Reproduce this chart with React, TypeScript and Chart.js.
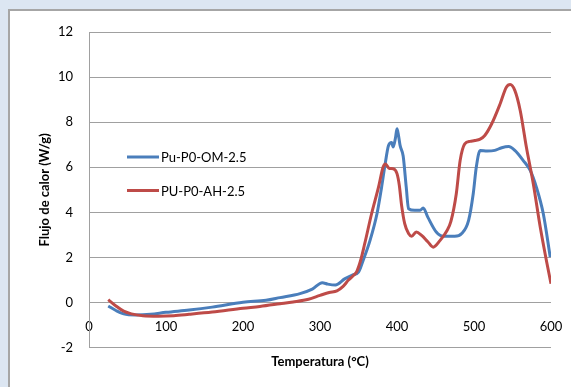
import React, { useEffect, useRef } from "react";
import { Chart, registerables } from "chart.js";

Chart.register(...registerables);

const omTemps = [25, 35, 45, 60, 80, 100, 130, 160, 200, 230, 248, 274, 290, 303, 310, 320, 332, 342, 350, 356, 365, 374, 380, 384, 389, 393, 395, 398, 400, 402, 404, 408, 412, 415, 423, 430, 434, 440, 451, 460, 475, 484, 493, 499, 503, 508, 517, 527, 536, 545, 553, 564, 573, 581, 590, 599];
const omValues = [-0.15, -0.35, -0.5, -0.55, -0.52, -0.43, -0.33, -0.2, 0.02, 0.1, 0.22, 0.4, 0.6, 0.88, 0.82, 0.78, 1.05, 1.22, 1.35, 1.87, 2.76, 3.94, 5.12, 6.01, 6.97, 7.1, 6.9, 7.3, 7.71, 7.4, 6.97, 6.5, 5.12, 4.16, 4.09, 4.09, 4.2, 3.79, 3.13, 2.94, 2.94, 3.06, 3.65, 4.83, 6.01, 6.75, 6.72, 6.75, 6.87, 6.92, 6.75, 6.3, 5.86, 5.12, 3.94, 2.02];

const ahTemps = [25, 35, 45, 55, 70, 90, 110, 130, 160, 200, 222, 248, 265, 285, 300, 312, 322, 330, 337, 344, 348, 353, 358, 367, 376, 382, 385, 390, 395, 400, 403, 406, 410, 415, 419, 425, 432, 440, 447, 456, 465, 470, 477, 482, 488, 495, 501, 508, 514, 523, 534, 542, 547, 553, 560, 568, 577, 586, 594, 600];
const ahValues = [0.13, -0.15, -0.38, -0.5, -0.58, -0.6, -0.58, -0.52, -0.42, -0.25, -0.17, -0.05, 0.03, 0.15, 0.32, 0.45, 0.52, 0.72, 1.0, 1.22, 1.4, 1.9, 2.6, 3.94, 5.12, 6.01, 6.15, 5.95, 5.94, 5.72, 5.2, 4.3, 3.5, 3.06, 2.94, 3.13, 2.98, 2.7, 2.46, 2.76, 3.2, 3.6, 4.83, 6.3, 7.04, 7.15, 7.19, 7.25, 7.41, 7.93, 8.82, 9.55, 9.67, 9.41, 8.52, 6.9, 5.27, 3.35, 1.87, 0.84];

const seriesLabels = ["Pu-P0-OM-2.5", "PU-P0-AH-2.5"];
const seriesColors = ["#4a7ebb", "#be4b48"];
const xTitle = "Temperatura (°C)";
const yTitle = "Flujo de calor (W/g)";

const FONT = "Lato, 'Open Sans', sans-serif";

const legendPlugin = {
  id: "insideLegend",
  afterDatasetsDraw(chart: any) {
    const { ctx, chartArea } = chart;
    ctx.save();
    ctx.font = `13px ${FONT}`;
    ctx.textBaseline = "middle";
    ctx.textAlign = "left";
    const rows = [125, 158.5];
    seriesLabels.forEach((label, i) => {
      const y = chartArea.top + rows[i];
      const x0 = chartArea.left + 38;
      ctx.strokeStyle = seriesColors[i];
      ctx.lineWidth = 3;
      ctx.beginPath();
      ctx.moveTo(x0, y);
      ctx.lineTo(x0 + 32, y);
      ctx.stroke();
      ctx.fillStyle = "#000";
      ctx.fillText(label, x0 + 34, y + 1);
    });
    ctx.restore();
  },
};

export default function App() {
  const canvasRef = useRef<HTMLCanvasElement>(null);

  useEffect(() => {
    document.body.style.background = "#dce6f2";
    document.body.style.overflow = "hidden";
    const canvas = canvasRef.current;
    if (!canvas) return;
    const toPoints = (xs: number[], ys: number[]) => xs.map((x, i) => ({ x, y: ys[i] }));
    const chart = new Chart(canvas, {
      type: "line",
      data: {
        datasets: [
          {
            label: seriesLabels[0],
            data: toPoints(omTemps, omValues),
            borderColor: seriesColors[0],
            backgroundColor: seriesColors[0],
            borderWidth: 3,
            pointRadius: 0,
            cubicInterpolationMode: "monotone",
            order: 1,
          },
          {
            label: seriesLabels[1],
            data: toPoints(ahTemps, ahValues),
            borderColor: seriesColors[1],
            backgroundColor: seriesColors[1],
            borderWidth: 3,
            pointRadius: 0,
            cubicInterpolationMode: "monotone",
            order: 0,
          },
        ],
      },
      options: {
        animation: false,
        responsive: false,
        maintainAspectRatio: false,
        layout: { padding: { top: 21, right: 20, left: 0, bottom: 0 } },
        plugins: { legend: { display: false }, tooltip: { enabled: false } },
        scales: {
          x: {
            type: "linear",
            position: { y: 0 } as any,
            min: 0,
            max: 600,
            grid: { display: false, drawTicks: false },
            border: { display: false },
            ticks: {
              stepSize: 100,
              padding: 16,
              color: "#000",
              font: { family: FONT, size: 13 },
              maxRotation: 0,
            },
            afterFit(scale: any) {
              scale.paddingLeft = 0;
              scale.paddingRight = 0;
            },
          },
          x2: {
            type: "linear",
            position: "bottom",
            min: 0,
            max: 600,
            grid: { display: false, drawTicks: false },
            border: { display: false },
            ticks: { display: false },
            title: {
              display: true,
              text: xTitle,
              color: "#000",
              font: { family: FONT, size: 13, weight: "bold" },
              padding: { top: 0, bottom: 17 },
            },
            afterFit(scale: any) {
              scale.height = 39.3;
              scale.paddingLeft = 0;
              scale.paddingRight = 0;
            },
          },
          y: {
            type: "linear",
            position: "left",
            min: -2,
            max: 12,
            grid: { color: "#a0a0a0", lineWidth: 1, drawTicks: false },
            border: { display: true, color: "#a0a0a0", width: 1 },
            ticks: {
              stepSize: 2,
              padding: 16,
              color: "#000",
              font: { family: FONT, size: 13 },
            },
            title: {
              display: true,
              text: yTitle,
              color: "#000",
              font: { family: FONT, size: 13, weight: "bold" },
              padding: { top: 27, bottom: 0 },
            },
            afterFit(scale: any) {
              scale.width = 79;
              scale.paddingTop = 0;
              scale.paddingBottom = 0;
            },
          },
        },
      },
      plugins: [legendPlugin],
    } as any);
    return () => chart.destroy();
  }, []);

  return (
    <div
      style={{
        position: "fixed",
        left: 8,
        top: 9,
        width: 563,
        height: 378,
        boxSizing: "border-box",
        borderTop: "2px solid #a6a6a6",
        borderLeft: "2px solid #a6a6a6",
        background: "#fff",
      }}
    >
      <canvas ref={canvasRef} width={561} height={376} style={{ display: "block" }} />
    </div>
  );
}
